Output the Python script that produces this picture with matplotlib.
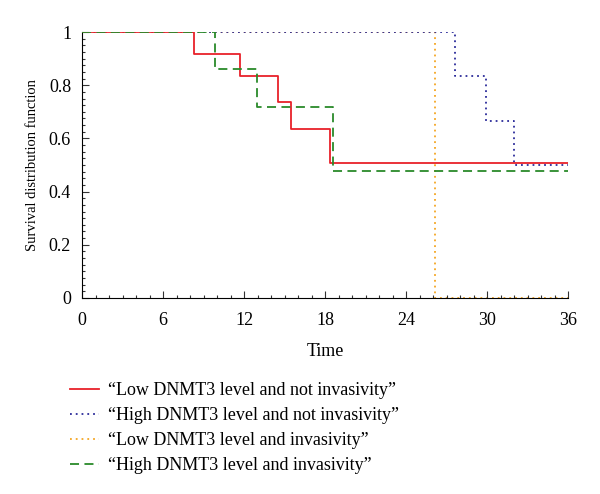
import matplotlib.pyplot as plt
from matplotlib.ticker import MultipleLocator

plt.rcParams['font.family'] = ['Liberation Serif', 'DejaVu Serif']

# step survival curves (time of change, survival after change)
low_not_t = [0, 8.25, 11.7, 14.5, 15.5, 18.35, 36]
low_not_s = [1.0, 0.917, 0.833, 0.736, 0.634, 0.509, 0.509]

high_not_t = [0, 27.6, 29.9, 32.0, 36]
high_not_s = [1.0, 0.833, 0.667, 0.5, 0.5]

low_inv_t = [0, 26.1, 36]
low_inv_s = [1.0, 0.0, 0.0]

high_inv_t = [0, 9.8, 12.95, 18.55, 36]
high_inv_s = [1.0, 0.862, 0.718, 0.476, 0.476]

labels = ['\u201cLow DNMT3 level and not invasivity\u201d',
          '\u201cHigh DNMT3 level and not invasivity\u201d',
          '\u201cLow DNMT3 level and invasivity\u201d',
          '\u201cHigh DNMT3 level and invasivity\u201d']

fig = plt.figure(figsize=(6, 4.94), dpi=100)
ax = fig.add_axes([0.137, 0.397, 0.81, 0.538])

ax.step(low_not_t, low_not_s, where='post', color='#e8212a', lw=1.3, label=labels[0], zorder=4)
ax.step(high_not_t, high_not_s, where='post', color='#2b2b9a', lw=1.3, ls=(0, (1, 2.2)), label=labels[1], zorder=3)
ax.step(low_inv_t, low_inv_s, where='post', color='#f5a623', lw=1.3, ls=(0, (1, 2.2)), label=labels[2], zorder=1)
ax.step(high_inv_t, high_inv_s, where='post', color='#2a8a2a', lw=1.3, ls=(0, (5, 3)), label=labels[3], zorder=5)

ax.set_xlim(0, 36)
ax.set_ylim(0, 1)
ax.xaxis.set_major_locator(MultipleLocator(6))
ax.xaxis.set_minor_locator(MultipleLocator(1))
ax.yaxis.set_minor_locator(MultipleLocator(0.025))
ax.set_yticks([0, 0.2, 0.4, 0.6, 0.8, 1.0])
ax.set_yticklabels(['0', '0.2', '0.4', '0.6', '0.8', '1'])
ax.tick_params(which='both', direction='in', labelsize=13, width=0.8, color='#333333')
ax.tick_params(which='major', length=5)
ax.tick_params(which='minor', length=2.5)
ax.tick_params(axis='x', pad=10)
ax.tick_params(axis='y', pad=8)
ax.spines['top'].set_visible(False)
ax.spines['right'].set_visible(False)
ax.set_xlabel('Time', fontsize=13, labelpad=10)
ax.set_ylabel('Survival distribution function', fontsize=10.5, labelpad=7)

fig.legend(loc='upper left', bbox_to_anchor=(0.102, 0.245), frameon=False,
           fontsize=13, handlelength=1.6, handletextpad=0.5, labelspacing=0.45,
           borderpad=0)

fig.savefig('out.png', dpi=100)
